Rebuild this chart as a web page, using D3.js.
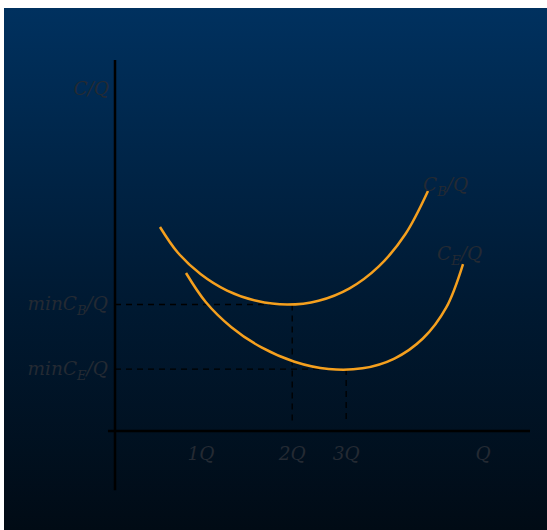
<!DOCTYPE html>
<html><head><meta charset="utf-8">
<script src="https://cdn.jsdelivr.net/npm/d3@7"></script>
<style>html,body{margin:0;padding:0;background:#fff;}svg{display:block;}</style>
</head><body>
<script>
// Data (abstract economic units)
const cbX = [1.084, 1.511, 2.060, 2.701, 3.407, 4.152, 4.906, 5.653, 6.357, 6.995, 7.542];
const cbY = [5.499, 4.811, 4.234, 3.787, 3.509, 3.407, 3.512, 3.846, 4.437, 5.302, 6.469];
const ceX = [1.711, 2.186, 2.805, 3.530, 4.325, 5.147, 5.961, 6.733, 7.419, 7.983, 8.386];
const ceY = [4.259, 3.477, 2.798, 2.253, 1.868, 1.671, 1.690, 1.954, 2.493, 3.332, 4.501];
const tickLabels = ["1Q", "2Q", "3Q", "Q"];
const tickValues = [2.07, 4.27, 5.57, 8.87];
const minLabels = ["B", "E"];
const minValues = [3.41, 1.67];
const minQ = [4.27, 5.57];

const W = 547, H = 530;
const svg = d3.select("body").append("svg").attr("width", W).attr("height", H);
const defs = svg.append("defs");
const grad = defs.append("linearGradient").attr("id", "bg").attr("x1", 0).attr("y1", 0).attr("x2", 0).attr("y2", 1);
grad.append("stop").attr("offset", "0%").attr("stop-color", "#00315f");
grad.append("stop").attr("offset", "55%").attr("stop-color", "#001a33");
grad.append("stop").attr("offset", "100%").attr("stop-color", "#010b15");
svg.append("rect").attr("x", 4).attr("y", 8).attr("width", W - 4).attr("height", H - 8).attr("fill", "url(#bg)");

const x = d3.scaleLinear().domain([0, 10]).range([115, 530]);
const y = d3.scaleLinear().domain([0, 10]).range([431, 60]);

const textColor = "#242a33";
const font = "'DejaVu Serif', serif";
const fs = 18.5;

// axes
svg.append("line").attr("x1", x(0)).attr("x2", x(0)).attr("y1", y(10)).attr("y2", y(-1.6))
  .attr("stroke", "#000").attr("stroke-width", 2.5);
svg.append("line").attr("x1", x(-0.17)).attr("x2", x(10)).attr("y1", y(0)).attr("y2", y(0))
  .attr("stroke", "#000").attr("stroke-width", 2.5);

// dashed guides
minValues.forEach((v, i) => {
  svg.append("line").attr("x1", x(0)).attr("x2", x(minQ[i])).attr("y1", y(v)).attr("y2", y(v))
    .attr("stroke", "#000").attr("stroke-width", 1.3).attr("stroke-dasharray", "6,5");
  svg.append("line").attr("x1", x(minQ[i])).attr("x2", x(minQ[i])).attr("y1", y(v)).attr("y2", y(0.25))
    .attr("stroke", "#000").attr("stroke-width", 1.3).attr("stroke-dasharray", "6,5");
});

// curves
const line = d3.line().x(d => x(d[0])).y(d => y(d[1])).curve(d3.curveCatmullRom.alpha(0.5));
[[cbX, cbY], [ceX, ceY]].forEach(([xs, ys]) => {
  svg.append("path").attr("d", line(xs.map((v, i) => [v, ys[i]])))
    .attr("fill", "none").attr("stroke", "#f5a01e").attr("stroke-width", 2.5);
});

// tick labels
tickLabels.forEach((t, i) => {
  svg.append("text").attr("x", x(tickValues[i])).attr("y", 460).attr("text-anchor", "middle")
    .attr("font-family", font).attr("font-style", "italic").attr("font-size", fs)
    .attr("fill", textColor).text(t);
});

// y label
svg.append("text").attr("x", 109).attr("y", 95).attr("text-anchor", "end")
  .attr("font-family", font).attr("font-style", "italic").attr("font-size", fs)
  .attr("fill", textColor).text("C/Q");

// min labels
minValues.forEach((v, i) => {
  const t = svg.append("text").attr("x", 108).attr("y", y(v) + 6).attr("text-anchor", "end")
    .attr("font-family", font).attr("font-style", "italic").attr("font-size", fs).attr("fill", textColor);
  t.append("tspan").text("minC");
  t.append("tspan").attr("dy", 5).attr("font-size", 13).text(minLabels[i]);
  t.append("tspan").attr("dy", -5).text("/Q");
});

// curve labels
const curveLabels = [["B", cbX[cbX.length - 1], cbY[cbY.length - 1], -5, 0],
                     ["E", ceX[ceX.length - 1], ceY[ceY.length - 1], -26, -4]];
curveLabels.forEach(([s, cx, cy, dx, dy]) => {
  const t = svg.append("text").attr("x", x(cx) + dx).attr("y", y(cy) + dy)
    .attr("font-family", font).attr("font-style", "italic").attr("font-size", fs).attr("fill", textColor);
  t.append("tspan").text("C");
  t.append("tspan").attr("dy", 5).attr("font-size", 13).text(s);
  t.append("tspan").attr("dy", -5).text("/Q");
});
</script>
</body></html>
